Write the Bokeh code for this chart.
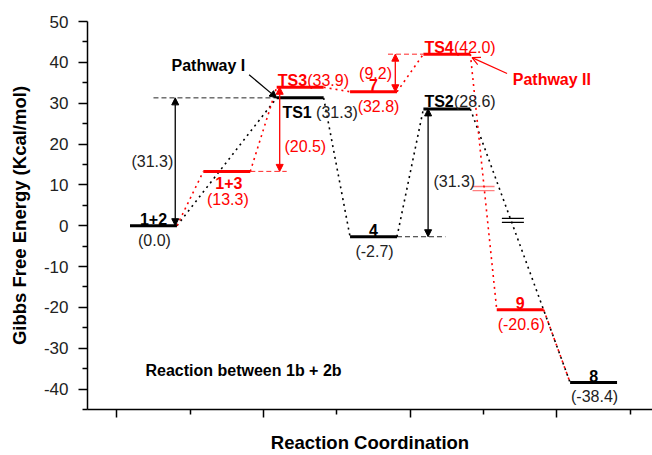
from bokeh.plotting import figure
from bokeh.models import Range1d, FixedTicker, Arrow, NormalHead, OpenHead
from bokeh.embed import file_html
from bokeh.resources import INLINE
from bokeh.core.properties import value

# ---------------- data ----------------
# Pathway I (black)
path1_names = ["1+2", "TS1", "4", "TS2", "8"]
path1_stage = [0, 2, 3, 4, 6]
path1_energy = [0.0, 31.3, -2.7, 28.6, -38.4]

# Pathway II (red)
path2_names = ["1+2", "1+3", "TS3", "7", "TS4", "9", "8"]
path2_stage = [0, 1, 2, 3, 4, 5, 6]
path2_energy = [0.0, 13.3, 33.9, 32.8, 42.0, -20.6, -38.4]

# barriers (from level -> to level, value shown)
barrier_from = ["1+2", "1+3", "7", "4"]
barrier_to = ["TS1", "TS3", "TS4", "TS2"]
barrier_value = [31.3, 20.5, 9.2, 31.3]

# break marks on the descending connectors (stage, energy)
break_stage = [4.5, 4.9]
break_energy = [9.1, 1.3]

# axis ticks
x_major = [1, 2, 3, 4]
x_minor = [1.5, 2.5, 3.5, 4.5]
y_major = [-40, -30, -20, -10, 0, 10, 20, 30, 40, 50]
y_minor = [-45, -35, -25, -15, -5, 5, 15, 25, 35, 45]

# ---------------- layout ----------------
FONT = "Liberation Sans"
RED = "#ff0000"
BLACK = "#000000"
DARK = "#222222"

W, H = 652, 455
BL, BT, BR, BB = 87, 21, 0, 42
PX_PER_X = 146.7
X0 = 1 - 29.3 / PX_PER_X
X1 = X0 + (W - BL - BR) / PX_PER_X
Y0, Y1 = -45, 50
PX_PER_Y = (H - BT - BB) / (Y1 - Y0)
TEXT_LIFT = 4  # px correction for svg baseline placement


def dx(px):
    return px / PX_PER_X


def dy(px):
    return px / PX_PER_Y


def sx(stage):
    return 1.25 + 0.5 * stage


HW = 0.16

p = figure(width=W, height=H, x_range=Range1d(X0, X1), y_range=Range1d(Y0, Y1),
           output_backend="svg", toolbar_location=None,
           min_border_left=BL, min_border_top=BT, min_border_right=BR, min_border_bottom=BB)
p.outline_line_color = None
p.grid.visible = False
p.background_fill_color = "white"

p.xaxis.ticker = FixedTicker(ticks=x_major, minor_ticks=x_minor)
p.yaxis.ticker = FixedTicker(ticks=y_major, minor_ticks=y_minor)
for ax, mt in ((p.xaxis[0], 8), (p.yaxis[0], 9)):
    ax.axis_line_width = 1.5
    ax.axis_line_color = BLACK
    ax.major_tick_line_width = 1.5
    ax.major_tick_line_color = BLACK
    ax.minor_tick_line_width = 1.5
    ax.minor_tick_line_color = BLACK
    ax.major_tick_out = mt
    ax.major_tick_in = 0
    ax.minor_tick_out = 5
    ax.minor_tick_in = 0
    ax.axis_label_text_font = FONT
    ax.axis_label_text_font_style = "bold"
    ax.axis_label_text_font_size = "18.5px"
    ax.axis_label_text_color = BLACK
p.yaxis.major_label_text_font = FONT
p.yaxis.major_label_text_font_size = "17px"
p.yaxis.major_label_text_color = DARK
p.yaxis.major_label_standoff = 10
p.yaxis.major_label_overrides = {v: str(v) for v in y_major}
p.yaxis.axis_label = "Gibbs Free Energy (Kcal/mol)"
p.yaxis.axis_label_standoff = 11
p.xaxis.major_label_overrides = {v: "" for v in x_major}
p.xaxis.major_label_text_font_size = "10px"
p.xaxis.major_label_standoff = 0
p.xaxis.axis_label = "Reaction Coordination"
p.xaxis.axis_label_standoff = 14

# level lookup
levels = {}
for n, s, e in zip(path2_names, path2_stage, path2_energy):
    levels[n] = (sx(s), e, RED)
for n, s, e in zip(path1_names, path1_stage, path1_energy):
    levels[n] = (sx(s), e, BLACK)


def left(n):
    return levels[n][0] - HW


def right(n):
    return levels[n][0] + HW


def en(n):
    return levels[n][1]


# connectors
def connectors(stages, energies):
    d = dict(x0=[], y0=[], x1=[], y1=[])
    for i in range(len(stages) - 1):
        d["x0"].append(sx(stages[i]) + HW)
        d["y0"].append(energies[i])
        d["x1"].append(sx(stages[i + 1]) - HW)
        d["y1"].append(energies[i + 1])
    return d


c1 = connectors(path1_stage, path1_energy)
c2 = connectors(path2_stage, path2_energy)
p.segment(x0=c1["x0"], y0=c1["y0"], x1=c1["x1"], y1=c1["y1"],
          line_color=BLACK, line_width=1.6, line_dash="2 4")
p.segment(x0=c2["x0"], y0=c2["y0"], x1=c2["x1"], y1=c2["y1"],
          line_color=RED, line_width=1.6, line_dash="2 4")

# break marks
bcol = [RED, BLACK]
balpha = [0.5, 1.0]
for s, e, c, a in zip(break_stage, break_energy, bcol, balpha):
    p.segment(x0=[sx(s) - 0.075] * 2, y0=[e + 0.5, e - 0.5],
              x1=[sx(s) + 0.075] * 2, y1=[e + 0.5, e - 0.5],
              line_color=c, line_alpha=a, line_width=1.3)

# levels
for n, (cx, e, c) in levels.items():
    p.segment(x0=[cx - HW], y0=[e], x1=[cx + HW], y1=[e], line_color=c, line_width=3)


def txt(x, y, s, color, bold=False, align="center", size="16px"):
    p.text(x=[x], y=[y + dy(TEXT_LIFT)], text=[s], text_color=color, text_font=value(FONT),
           text_font_size=size, text_font_style="bold" if bold else "normal",
           text_align=align, text_baseline="alphabetic")


def vlabel(n):
    return "({:.1f})".format(en(n))


# level labels
for n, (cx, e, c) in levels.items():
    tc = RED if c == RED else BLACK
    vc = RED if c == RED else DARK
    if n.startswith("TS"):
        if n == "TS1":
            txt(left(n) + dx(5.7), e - dy(19), n, tc, True, "left")
            txt(left(n) + dx(5.7 + 33.7), e - dy(19), vlabel(n), vc, False, "left")
        else:
            txt(left(n) + dx(1), e + dy(3), n, tc, True, "left")
            txt(left(n) + dx(30.5), e + dy(3), vlabel(n), vc, False, "left")
    elif n == "1+3":
        txt(cx + dx(2), e - dy(16), n, tc, True)
        txt(cx + dx(1), e - dy(32.3), vlabel(n), vc)
    else:
        off = 5 if n == "7" else 1
        txt(cx, e + dy(3), n, tc, True)
        txt(cx + dx(off), e - dy(18.5), vlabel(n), vc)

# barrier annotations
arrow_x = [right("1+2") - dx(1.7), left("TS3") + dx(3), right("7") - dx(1.7), left("TS2") + dx(4.7)]
dash_x0 = [levels["1+2"][0], right("1+3"), right("7") - dx(9), right("4")]
dash_x1 = [left("TS1"), left("TS3") + dx(10), left("TS4"), left("TS2") + dx(22)]
dash_at_high = [True, False, True, False]
lab_dx = [-2, 4.7, -3.3, 5.3]
lab_align = ["right", "left", "right", "left"]
lab_down = [0, 17, 0, 9]
for i in range(len(barrier_value)):
    lo, hi = en(barrier_from[i]), en(barrier_to[i])
    c = levels[barrier_to[i]][2]
    tc = RED if c == RED else DARK
    yd = hi if dash_at_high[i] else lo
    p.segment(x0=[dash_x0[i]], y0=[yd], x1=[dash_x1[i]], y1=[yd],
              line_color=c, line_width=1, line_dash="5 3", line_alpha=0.85)
    p.add_layout(Arrow(x_start=arrow_x[i], y_start=lo, x_end=arrow_x[i], y_end=hi,
                       line_color=c, line_width=1.3,
                       start=NormalHead(size=7, fill_color=c, line_color=c, line_width=1),
                       end=NormalHead(size=7, fill_color=c, line_color=c, line_width=1)))
    mid = (lo + hi) / 2 - dy(lab_down[i]) - dy(4.1)
    txt(arrow_x[i] + dx(lab_dx[i]), mid, "({:.1f})".format(barrier_value[i]), tc, False, lab_align[i])

# pathway labels
tipx, tipy = left("TS1"), en("TS1")
p.add_layout(Arrow(x_start=tipx - dx(27.6), y_start=tipy + dy(23.3), x_end=tipx, y_end=tipy,
                   line_color=BLACK, line_width=1.2,
                   end=NormalHead(size=7, fill_color=BLACK, line_color=BLACK)))
txt(tipx - dx(68.3), tipy + dy(29), "Pathway I", BLACK, True, "center")

tipx, tipy = right("TS4") + dx(1.7), en("TS4") - dy(3.5)
p.add_layout(Arrow(x_start=tipx + dx(35), y_start=tipy - dy(16), x_end=tipx, y_end=tipy,
                   line_color=RED, line_width=1.2,
                   end=OpenHead(size=8, line_color=RED, line_width=1.2)))
txt(right("TS4") + dx(42.4), en("TS4") - dy(29.5), "Pathway II", RED, True, "left")

txt(X0 + dx(58), Y0 + dy(35), "Reaction between 1b + 2b", BLACK, True, "left")

open("out.html", "w").write(file_html(p, INLINE))
